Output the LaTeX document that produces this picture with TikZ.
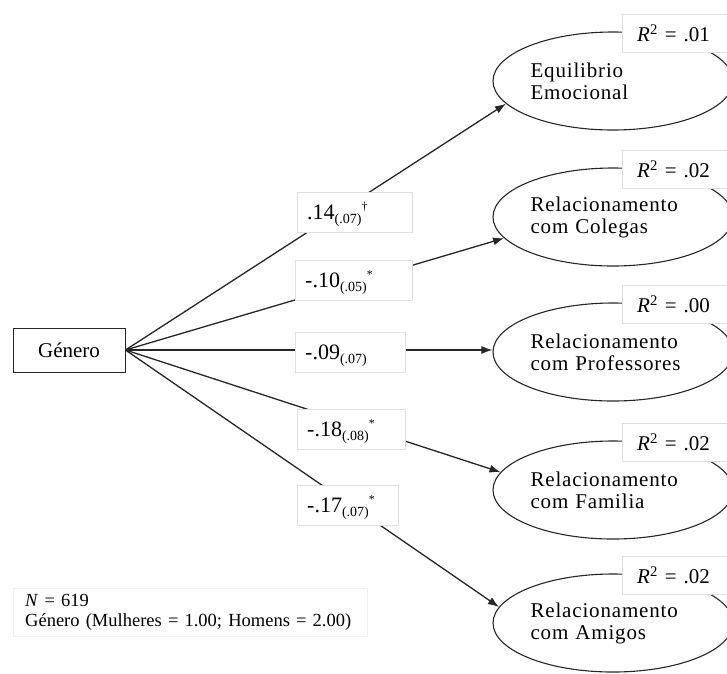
\documentclass[tikz,border=0pt]{standalone}
\usepackage{fontspec}
\setmainfont{Liberation Serif}
\newfontfamily\widefont[LetterSpace=4]{Liberation Serif}
\usetikzlibrary{shapes.geometric,arrows.meta}

% coefficient with standard error (subscript) and significance mark (superscript)
\newcommand{\coefval}[3]{{\fontsize{22}{22}\selectfont#1}{\fontsize{14}{14}\selectfont\raisebox{-4pt}[0pt][0pt]{#2}}{\fontsize{12}{12}\selectfont\raisebox{9pt}[0pt][0pt]{#3}}}
\newcommand{\rsq}[1]{\textit{R}\textsuperscript{2} = #1}

\tikzset{
  lbl/.style={font=\fontsize{21}{22}\selectfont},
  predictor/.style={lbl, rectangle, draw=black!85, line width=1pt,
    minimum width=112pt, minimum height=44pt, inner sep=0pt},
  latent/.style={font=\widefont\fontsize{21}{22}\selectfont, ellipse, draw=black!85, line width=1.1pt,
    minimum width=240pt, minimum height=98pt, inner sep=0pt,
    text width=165pt, align=left},
  coefbox/.style={lbl, rectangle, draw=black!12, fill=white, anchor=west,
    minimum height=40pt, inner xsep=10pt, inner ysep=0pt,
    text width=#1, align=left},
  rbox/.style={lbl, rectangle, draw=black!12, fill=white, anchor=north west,
    minimum height=38pt, inner xsep=15pt, inner ysep=0pt,
    text width=95pt, align=left},
  notebox/.style={rectangle, draw=black!6, anchor=north west,
    inner xsep=12pt, inner ysep=6pt, text width=330pt, align=left,
    font=\fontsize{18.5}{20}\selectfont},
  effect/.style={draw=black!85, line width=1.3pt,
    -{Latex[length=11pt,width=8pt]}}
}

\begin{document}
\begin{tikzpicture}[x=1pt,y=-1pt]
\path[use as bounding box] (0,0) rectangle (727,673);
\clip (0,0) rectangle (727,673);

% predictor
\node[predictor] (gen) at (69,350) {Género};

% outcomes
\node[latent] (e1) at (613,81)  {Equilibrio\\Emocional};
\node[latent] (e2) at (613,217) {Relacionamento\\com Colegas};
\node[latent] (e3) at (613,352) {Relacionamento\\com Professores};
\node[latent] (e4) at (613,490) {Relacionamento\\com Familia};
\node[latent] (e5) at (613,623) {Relacionamento\\com Amigos};

% explained variance
\node[rbox] (r1) at (622,14)  {\rsq{.01}};
\node[rbox] (r2) at (622,150) {\rsq{.02}};
\node[rbox] (r3) at (622,285) {\rsq{.00}};
\node[rbox] (r4) at (622,423) {\rsq{.02}};
\node[rbox] (r5) at (622,556) {\rsq{.02}};

% paths
\draw[effect] (gen.east) -- (e1.192);
\draw[effect] (gen.east) -- (e2.191);
\draw[effect] (gen.east) -- (gen.east -| e3.west);
\draw[effect] (gen.east) -- (e4.171);
\draw[effect] (gen.east) -- (e5.172);

% path coefficients
\node[coefbox=95pt] (c1) at (297,212) {\coefval{.14}{(.07)}{†}};
\node[coefbox=97pt] (c2) at (295,280) {\coefval{-.10}{(.05)}{*}};
\node[coefbox=90pt] (c3) at (295,352) {\coefval{-.09}{(.07)}{}};
\node[coefbox=88pt] (c4) at (297,429) {\coefval{-.18}{(.08)}{*}};
\node[coefbox=81pt] (c5) at (297,505) {\coefval{-.17}{(.07)}{*}};

% sample note
\node[notebox] (note) at (13,588) {\textit{N} = 619\\Género (Mulheres = 1.00; Homens = 2.00)};
\end{tikzpicture}
\end{document}
